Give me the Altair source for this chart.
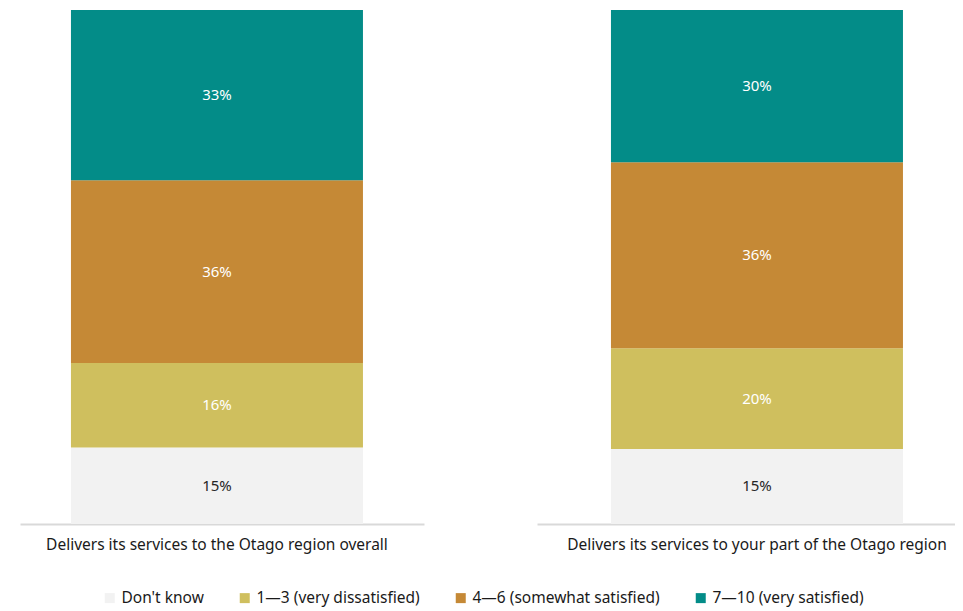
import altair as alt
import pandas as pd

questions = [
    "Delivers its services to the Otago region overall",
    "Delivers its services to your part of the Otago region",
]
categories = [
    "Don't know",
    "1\u20143 (very dissatisfied)",
    "4\u20146 (somewhat satisfied)",
    "7\u201410 (very satisfied)",
]
colors = ["#f2f2f2", "#cfbf5e", "#c58936", "#038c88"]
text_colors = ["#262626", "#ffffff", "#ffffff", "#ffffff"]
overall = [14.9, 16.4, 35.6, 33.1]
your_part = [14.6, 19.6, 36.2, 29.6]

rows = []
for q, vals in zip(questions, [overall, your_part]):
    for i, (c, v) in enumerate(zip(categories, vals)):
        rows.append({"question": q, "category": c, "value": v, "idx": i,
                     "tcolor": text_colors[i]})
df = pd.DataFrame(rows)

FONT = "Noto Sans"


def panel(q, w, pad_outer, align):
    sub = df[df["question"] == q]
    x = alt.X("question:N",
              scale=alt.Scale(paddingInner=0, paddingOuter=pad_outer, align=align),
              axis=alt.Axis(title=None, labelAngle=0, ticks=False, labelPadding=13,
                            labelFontSize=15.5, labelColor="#1a1a1a", labelFont=FONT,
                            domainColor="#d9d9d9", domainWidth=2, labelLimit=600))
    base = alt.Chart(sub)
    bars = base.mark_bar().encode(
        x=x,
        y=alt.Y("value:Q", stack="zero", scale=alt.Scale(domain=[0, 100]), axis=None),
        color=alt.Color("category:N", scale=alt.Scale(domain=categories, range=colors),
                        legend=alt.Legend(title=None, orient="none", direction="horizontal",
                                          legendX=82, legendY=580, symbolType="square",
                                          symbolSize=100, symbolStrokeWidth=0,
                                          labelFontSize=15.5, labelFont=FONT,
                                          labelColor="#1a1a1a", columnPadding=33,
                                          labelOffset=4, labelLimit=0)),
        order=alt.Order("idx:Q", sort="ascending"),
    )
    texts = base.transform_stack(
        stack="value", groupby=["question"], as_=["y0", "y1"],
        sort=[alt.SortField("idx", order="ascending")],
    ).transform_calculate(
        mid="(datum.y0 + datum.y1) / 2",
        lab="format(datum.value, '.0f') + '%'",
    ).mark_text(fontSize=15, font=FONT).encode(
        x=alt.X("question:N"),
        y=alt.Y("mid:Q"),
        text="lab:N",
        color=alt.Color("tcolor:N", scale=None),
    )
    return alt.layer(bars, texts).properties(width=w, height=514)


left = panel(questions[0], 404, (404 / 292 - 1) / 2, 0.455)
right = panel(questions[1], 418, (418 / 292 - 1) / 2, 0.587)

chart = alt.hconcat(left, right, spacing=113).properties(
    padding={"left": 12, "top": 2, "right": 0, "bottom": 0}
).configure_view(stroke=None).resolve_scale(color="shared")

chart.save("out.html", embed_options={"renderer": "svg", "actions": False})
